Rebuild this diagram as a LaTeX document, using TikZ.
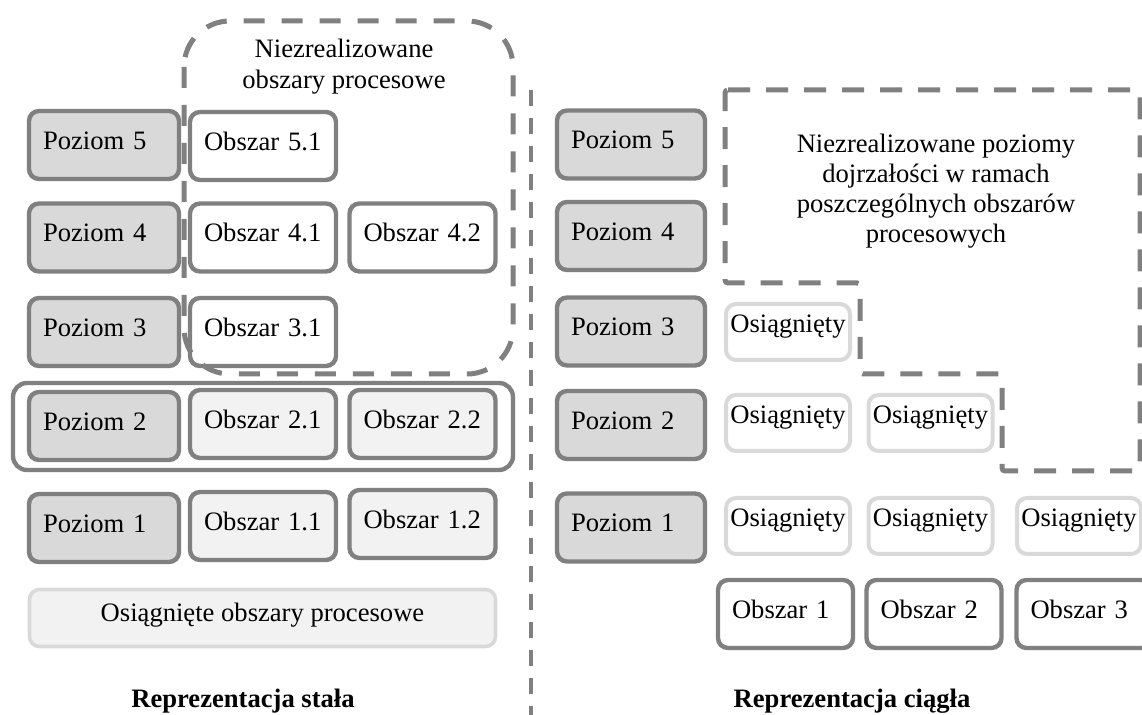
\documentclass[tikz,border=0pt]{standalone}
\usepackage{fontspec}
\setmainfont{Liberation Serif}
\definecolor{ramka}{RGB}{128,128,128}
\definecolor{szary}{RGB}{217,217,217}
\definecolor{jasny}{RGB}{242,242,242}

\begin{document}
\begin{tikzpicture}[x=0.5pt,y=-0.5pt, %[1 jednostka = 1 piksel]
	every node/.style={font=\fontsize{13.3}{15}\selectfont},
	poziom/.style={draw=ramka,fill=szary,line width=2.2pt,rounded corners=5pt,
		minimum height=34pt,text width=#1,inner xsep=7pt,align=left,
		text height=9pt,text depth=4.7pt},
	poziom/.default=61pt,
	obszar/.style={draw=ramka,fill=white,line width=2.2pt,rounded corners=5pt,
		minimum height=34pt,text width=#1,inner xsep=7pt,align=left,
		text height=9pt,text depth=4.7pt},
	obszar/.default=59pt,
	osiagniety/.style={draw=szary,fill=white,line width=2pt,rounded corners=5pt,
		minimum width=62pt,minimum height=28pt,inner xsep=1.5pt,
		text height=9pt,text depth=8pt},
	kreski/.style={draw=ramka,line width=2.5pt,dash pattern=on 10.5pt off 8.5pt}]
		\useasboundingbox (0,0) rectangle (1142,715);
		\clip (0,0) rectangle (1142,715);

		% reprezentacja stala
		\node[draw=ramka,line width=2.2pt,rounded corners=7pt,minimum width=250pt,minimum height=43.5pt] (wiersz2) at (263,426.5) {};
		\foreach \n/\y in {5/145,4/237.5,3/332,2/426,1/528}
			\node[poziom] (lp\n) at (104,\y) {Poziom \n};
		\node[obszar] (o51) at (263,146) {Obszar 5.1};
		\node[obszar] (o41) at (263,237.5) {Obszar 4.1};
		\node[obszar] (o42) at (422.5,237.5) {Obszar 4.2};
		\node[obszar] (o31) at (263,332) {Obszar 3.1};
		\node[obszar,fill=jasny] (o21) at (263,424) {Obszar 2.1};
		\node[obszar,fill=jasny] (o22) at (422.5,424) {Obszar 2.2};
		\node[obszar,fill=jasny] (o11) at (263,526) {Obszar 1.1};
		\node[obszar,fill=jasny] (o12) at (422.5,524) {Obszar 1.2};
		\node[draw=szary,fill=jasny,line width=1.8pt,rounded corners=5pt,minimum width=233pt,minimum height=28.5pt,
			text height=9pt,text depth=5.5pt] (osiagniete) at (262.5,618) {Osiągnięte obszary procesowe};
		\draw[kreski,rounded corners=23pt] (184,21) rectangle (513,374);
		\node[align=center,inner sep=0pt,font=\fontsize{13.3}{15.5}\selectfont] (niezreal1) at (344,66.4) {Niezrealizowane\\obszary procesowe};
		\node[anchor=base,font=\fontsize{13.3}{15}\selectfont\bfseries] (stala) at (243,708) {Reprezentacja stała};

		\coordinate (gora) at (531,90);
		\coordinate (dol) at (531,715);
		\draw[draw=ramka,line width=1.8pt,dash pattern=on 8pt off 6pt] (gora) -- (dol);

		% reprezentacja ciagla
		\foreach \n/\y in {5/144.5,4/236,3/331.5,2/425,1/527.5}
			\node[poziom=60pt] (rp\n) at (631,\y) {Poziom \n};
		\foreach \k/\x/\y in {31/788/332,21/788/423,22/930.5/423,11/788/526,12/930.5/526,13/1079/526}
			\node[osiagniety] (s\k) at (\x,\y) {Osiągnięty};
		\foreach \k/\x in {1/785.5,2/934,3/1084}
			\node[obszar=53.5pt] (ob\k) at (\x,614) {Obszar \k};
		\draw[kreski,dash pattern=on 11pt off 8pt,rounded corners=1.5pt] (725,90) -- (1140,90) -- (1140,471) -- (1002,471)
			-- (1002,374) -- (860,374) -- (860,283) -- (725,283) -- cycle;
		\node[align=center,inner sep=0pt] (niezreal2) at (936,190.8) {Niezrealizowane poziomy\\dojrzałości w ramach\\poszczególnych obszarów\\procesowych};
		\node[anchor=base,font=\fontsize{13.3}{15}\selectfont\bfseries] (ciagla) at (852,708) {Reprezentacja ciągła};
\end{tikzpicture}
\end{document}
